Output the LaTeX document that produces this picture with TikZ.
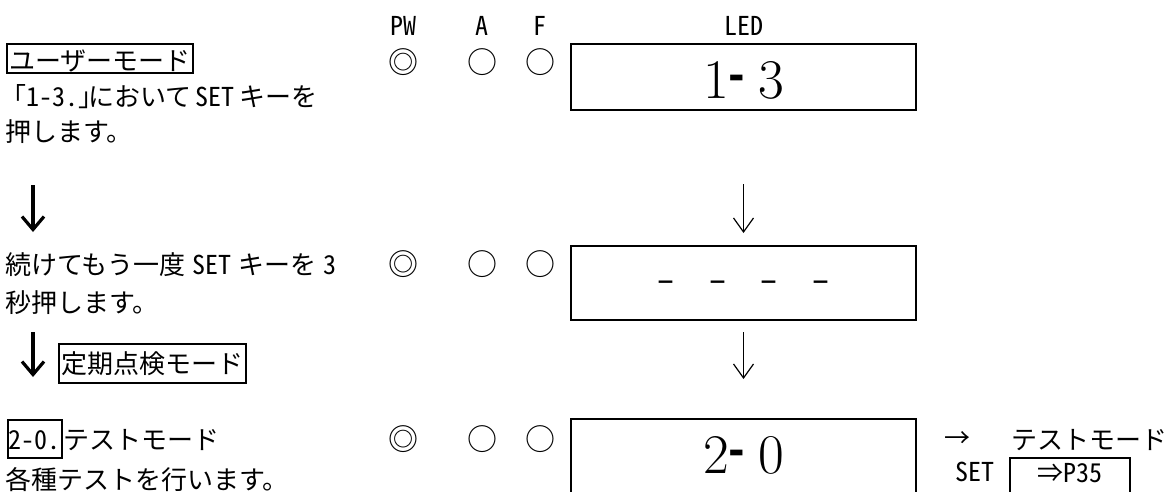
\documentclass[tikz,border=0pt]{standalone}
\usepackage{fontspec}
\usetikzlibrary{arrows.meta}
\newfontfamily\jp{Noto Sans CJK JP}
\newfontfamily\hw[CharacterWidth=Half]{Noto Sans CJK JP}
\newfontfamily\dvs{DejaVu Sans}
\makeatletter
\newcommand{\hwstr}[1]{{\hw\@tfor\hw@c:=#1\do{\makebox[13pt]{\hw@c}}}}
\makeatother
\tikzset{
  txt/.style={font=\jp\fontsize{26}{26}\selectfont, inner sep=0pt, anchor=base west},
  hdr/.style={font=\hw\fontsize{26}{26}\selectfont, inner sep=0pt, anchor=base},
  tbox/.style={draw, line width=2pt, inner xsep=2.5pt, inner ysep=0pt, anchor=base west},
  ledbox/.style={draw, line width=2pt, minimum width=345pt, inner xsep=0pt, inner ysep=0pt, anchor=north, font=\fontsize{56}{56}\selectfont},
  sym/.style={font=\jp\fontsize{30}{30}\selectfont, inner sep=0pt},
  thinarr/.style={-{Straight Barb[length=14pt,width=20pt,line width=1.2pt]}, line width=1.2pt},
  thickarr/.style={-{Straight Barb[length=13pt,width=22pt,line width=3.2pt]}, line width=3.2pt}
}
\newcommand{\ledhy}{\raisebox{9pt}{\dvs\bfseries\fontsize{40}{40}\selectfont -}}
\begin{document}
\begin{tikzpicture}[x=1pt,y=-1pt]
\useasboundingbox (0,0) rectangle (1171,491);
\clip (0,0) rectangle (1171,491);
% header
\node[hdr] (hpw) at (403,35) {\hwstr{PW}};
\node[hdr] (ha) at (482,35) {\hwstr{A}};
\node[hdr] (hf) at (540,35) {\hwstr{F}};
\node[hdr] (hled) at (744,35) {\hwstr{LED}};
% row 1
\node[tbox, text height=26pt, text depth=3pt, font=\jp\fontsize{26}{26}\selectfont] (um) at (6,70) {ユーザーモード};
\node[txt] (l2) at (0,106) {「\hwstr{1-3.}\makebox[10pt][l]{」}において\hspace{4pt}\hwstr{SET}\hspace{5pt}キーを};
\node[txt] (l3) at (5,141) {押します。};
\node[sym] (p1) at (403,62) {◎};
\node[sym] (a1) at (482,62) {○};
\node[sym] (f1) at (540,62) {○};
\node[ledbox, text height=54pt, text depth=12pt] (b1) at (743.5,43) {1\ledhy\hspace{13pt}3};
% arrows 1
\coordinate (la1s) at (33,185);
\coordinate (la1e) at (33,232);
\draw[thickarr] (la1s) -- (la1e);
% row 2
\node[txt] (l4) at (5,274) {続けてもう一度\hspace{7pt}\hwstr{SET}\hspace{7pt}キーを\hspace{7pt}\hwstr{3}};
\node[txt] (l5) at (5,312) {秒押します。};
\node[sym] (p2) at (403,264) {◎};
\node[sym] (a2) at (482,264) {○};
\node[sym] (f2) at (540,264) {○};
\node[ledbox, text height=45pt, text depth=29pt, font=\dvs\fontsize{34}{34}\selectfont] (b2) at (743.5,245) {–\hspace{34.7pt}–\hspace{34.7pt}–\hspace{34.7pt}–};
\draw[thinarr, shorten <=73pt, shorten >=12pt] (b1.south) -- (b2.north);
% arrows 2
\coordinate (la2s) at (33,332);
\coordinate (la2e) at (33,377);
\draw[thickarr] (la2s) -- (la2e);
\node[tbox, text height=29pt, text depth=10pt, font=\jp\fontsize{26}{26}\selectfont] (tk) at (58,373) {定期点検モード};
% row 3
\node[tbox, inner xsep=1pt, text height=29pt, text depth=9pt, font=\hw\fontsize{26}{26}\selectfont] (n20) at (7,449) {\hwstr{2-0.}};
\node[txt] (l6) at (n20.base east) {テストモード};
\node[txt] (l7) at (5,489) {各種テストを行います。};
\node[sym] (p3) at (403,439) {◎};
\node[sym] (a3) at (482,439) {○};
\node[sym] (f3) at (540,439) {○};
\node[ledbox, text height=54pt, text depth=46pt] (b3) at (743.5,418) {2\ledhy\hspace{13pt}0};
\draw[thinarr, shorten <=11pt, shorten >=39pt] (b2.south) -- (b3.north);
\node[txt, anchor=center] (arr) at (957,440) {→};
\node[txt] (tm) at (1011,449) {テストモード};
\node[hdr, anchor=base west] (set) at (955,481) {\hwstr{SET}};
\node[draw, line width=2pt, minimum width=120pt, inner sep=0pt, text height=24pt, text depth=40pt, anchor=north, font=\jp\fontsize{26}{26}\selectfont] (p35) at (1070,457) {⇒\hwstr{P35}\hspace{18pt}};
\end{tikzpicture}
\end{document}
